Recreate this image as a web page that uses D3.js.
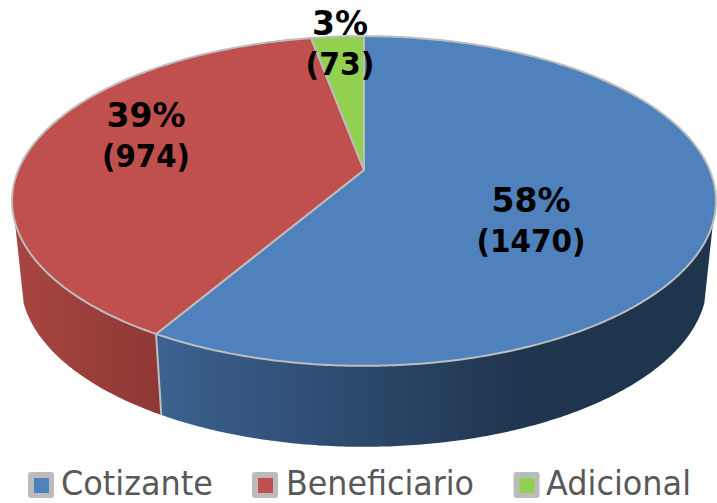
<!DOCTYPE html>
<html><head><meta charset="utf-8">
<script src="https://cdn.jsdelivr.net/npm/d3@7"></script>
<style>html,body{margin:0;padding:0;background:#fff}svg{display:block}</style></head>
<body><div id="c"></div>
<script>
(function () {
const categories = ["Cotizante", "Beneficiario", "Adicional"];
const values = [1470, 974, 73];
const percents = ["58%", "39%", "3%"];
const colors = ["#4f81bd", "#c0504d", "#92d050"];

const W = 717, H = 503;
const cx = 364, cy = 170;
const persp = 0.188, rX = 345.7, rY = 159;
const depth = 81, baseShrink = 0.975;
const wallFrom = 108 * Math.PI / 180, wallTo = 252 * Math.PI / 180;
const rimColor = "#bdbdbd";

const svg = d3.select("#c").append("svg").attr("width", W).attr("height", H)
  .attr("viewBox", `0 0 ${W} ${H}`);
const defs = svg.append("defs");

function rim(a, r = 1) {
  const x = r * Math.sin(a), y = -r * Math.cos(a), w = 1 - persp * y;
  return [cx + rX * x / w, cy + rY * y / w];
}
function base(a) {
  const p = rim(a);
  return [cx + (p[0] - cx) * baseShrink, p[1] + depth];
}
function span(a0, a1, fn) {
  const n = Math.max(2, Math.ceil(Math.abs(a1 - a0) / 0.01));
  return d3.range(n + 1).map(i => fn(a0 + (a1 - a0) * i / n));
}
const line = d3.line();
const arcs = d3.pie().sort(null).value(d => d)(values);

function gradient(id, x1, x2, c1, c2) {
  const g = defs.append("linearGradient").attr("id", id)
    .attr("gradientUnits", "userSpaceOnUse")
    .attr("x1", x1).attr("x2", x2).attr("y1", 0).attr("y2", 0);
  g.append("stop").attr("offset", 0).attr("stop-color", c1);
  g.append("stop").attr("offset", 1).attr("stop-color", c2);
}
gradient("wall0", 165, 530, "#3b618f", "#1f344d");
gradient("wall1", 20, 160, "#a74541", "#8e3835");

// side walls
arcs.forEach((d, i) => {
  const a0 = Math.max(d.startAngle, wallFrom), a1 = Math.min(d.endAngle, wallTo);
  if (a1 <= a0) return;
  const pts = span(a0, a1, rim).concat(span(a1, a0, base));
  svg.append("path").attr("d", line(pts) + "Z").attr("fill", `url(#wall${i})`);
});
// wall seam
const seam = arcs[0].endAngle;
svg.append("path").attr("d", line([rim(seam), base(seam)]))
  .attr("stroke", rimColor).attr("stroke-width", 2).attr("fill", "none");

// top face
arcs.forEach((d, i) => {
  const pts = [[cx, cy]].concat(span(d.startAngle, d.endAngle, rim));
  svg.append("path").attr("d", line(pts) + "Z")
    .attr("fill", colors[i]).attr("stroke", rimColor)
    .attr("stroke-width", 2).attr("stroke-linejoin", "round");
});

// data labels
const labelPos = [[531, 212], [146, 127], [340, 35]];
const valueW = [109, 88, 69];
const labels = svg.append("g").attr("font-family", "'DejaVu Sans'")
  .attr("font-weight", "bold").attr("fill", "#000").attr("text-anchor", "middle");
values.forEach((v, i) => {
  labels.append("text").attr("x", labelPos[i][0]).attr("y", labelPos[i][1])
    .attr("font-size", 33).text(percents[i]);
  labels.append("text").attr("x", labelPos[i][0]).attr("y", labelPos[i][1] + 40)
    .attr("font-size", 32).attr("textLength", valueW[i])
    .attr("lengthAdjust", "spacingAndGlyphs").text(`(${v})`);
});

// legend
const swatchX = [28, 252, 513.5], textX = [61, 286, 546], textW = [152, 188, 145];
const legend = svg.append("g");
categories.forEach((c, i) => {
  legend.append("rect").attr("x", swatchX[i]).attr("y", 472).attr("width", 26).attr("height", 26)
    .attr("rx", 3).attr("fill", "#bbbbbb");
  legend.append("rect").attr("x", swatchX[i] + 6).attr("y", 478).attr("width", 15).attr("height", 15)
    .attr("fill", colors[i]);
  legend.append("text").attr("x", textX[i]).attr("y", 495)
    .attr("font-family", "'DejaVu Sans'").attr("font-size", 33).attr("fill", "#595959")
    .attr("textLength", textW[i]).attr("lengthAdjust", "spacingAndGlyphs").text(c);
});
})();
</script></body></html>
